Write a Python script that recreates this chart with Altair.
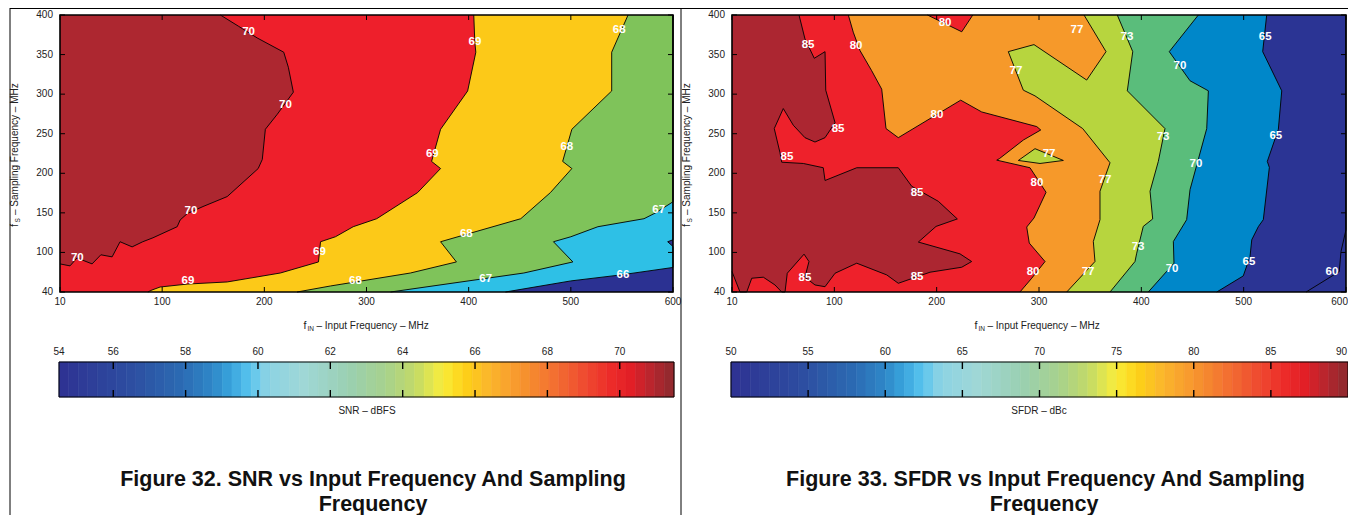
import altair as alt
import pandas as pd

FONT = "Liberation Sans"
W, H = 1340, 507

# ============ Figure 32: SNR (dBFS) contour boundaries ============
# x = input frequency (MHz), y = sampling frequency (MHz); region >= level lies left of boundary
snr_b66_x = [600, 600, 594.8, 600, 600, 549, 500, 436]
snr_b66_y = [400, 116, 113.5, 107.5, 81, 71.6, 64, 50]
snr_b67_x = [600, 600, 583, 571.6, 526.5, 500, 483, 502, 454, 323.5]
snr_b67_y = [400, 164, 150, 142.6, 132.5, 119.8, 113.5, 88, 74, 50]
snr_b68_x = [556, 540, 540, 501, 492, 501, 480, 451, 372.5, 388, 343, 264.7, 232]
snr_b68_y = [400, 353, 304, 255.6, 215, 206, 175.6, 142.6, 113.5, 88, 74, 57.6, 50]
snr_b69_x = [405, 406, 407, 399, 372.5, 363.7, 372.5, 350, 310, 287, 269.6, 255, 253, 215.7,
             163.7, 124.5, 98, 90, 86]
snr_b69_y = [400, 366, 353, 304, 255.6, 215, 206, 175.6, 142.6, 132.5, 119.8, 113.5, 88, 74,
             62.7, 60, 56.3, 52.5, 50]
snr_b70_x = [157, 174.5, 193, 219, 223.5, 228.4, 212.7, 201, 198, 194, 163.7, 140, 124.5, 117.6,
             114.7, 91, 81, 70.6, 58.8, 51, 40, 31.4, 16.7, 9.8, 0]
snr_b70_y = [400, 386, 371, 353, 334, 302.5, 274.6, 255.6, 217.5, 206, 170.6, 158, 149, 141,
             132.5, 118.5, 113.5, 107, 113.5, 94.4, 97, 85.5, 93, 83, 85.5]
snr_colors = ["#2b3192", "#2ec0e6", "#7fc35a", "#fcc918", "#ee1f2b", "#ad2730"]

snr_lab_x = [184.6, 220.6, 128.1, 17, 253.9, 125.2, 406.2, 547.4, 364.4, 496.1, 586, 397.7,
             289.2, 416.7, 551]
snr_lab_y = [378.3, 286, 151.9, 93.5, 100.4, 64, 365.6, 381.2, 223.9, 233.1, 154, 123.2,
             64, 66.5, 71.6]
snr_lab_t = ["70", "70", "70", "70", "69", "69", "69", "68", "69", "68", "67", "68",
             "68", "67", "66"]

# ============ Figure 33: SFDR (dBc) contour boundaries ============
sfdr_b60_x = [600, 600, 595.1, 593.4, 561]
sfdr_b60_y = [400, 128.7, 101.1, 75.8, 50]
sfdr_b65_x = [522.5, 518.6, 537.2, 533.9, 523.1, 525.1, 519.2, 514.3, 507.9, 506.2, 499.6, 473.7]
sfdr_b65_y = [400, 353.7, 304.2, 255.6, 215, 207.4, 141.4, 132.5, 116, 94.8, 70.3, 50]
sfdr_b70_x = [455.7, 427.3, 447.6, 465.5, 463.9, 447.6, 444.3, 431.3, 431.9, 406.8]
sfdr_b70_y = [400, 353.7, 316.9, 304.2, 256.5, 179.4, 141.4, 113.8, 86.4, 50]
sfdr_b73_x = [376.5, 391.6, 386.3, 423.1, 416.6, 408.5, 411.1, 401.9, 395.5, 393.8, 369.4]
sfdr_b73_y = [400, 353.7, 304.2, 256.5, 215, 177.3, 142.3, 132.9, 99.1, 88.5, 50]
sfdr_b77_x = [344, 365.5, 346.6, 295.1, 270, 284.7, 296.1, 342.7, 369.4, 359.6, 359.6, 353.1,
              354.7, 327.1]
sfdr_b77_y = [400, 353.7, 317.8, 362.6, 353.7, 305, 297.8, 256.5, 213.3, 177.3, 141.4, 113.8,
              88.5, 50]
sfdr_b80_x = [113.7, 118.5, 125.1, 136.5, 146.3, 150.5, 162.5, 223.5, 244, 297.8, 301.7, 284.7,
              261.2, 258.7, 291.2, 306.9, 295.1, 288, 290.5, 305.9, 292.9, 281.4]
sfdr_b80_y = [400, 378.3, 355, 329.6, 306.3, 256.5, 245, 292.4, 277.5, 259, 254.7, 242,
              218.4, 216.6, 207, 176, 143.5, 132.1, 111.8, 88.5, 67.4, 50]
sfdr_b85_x = [65.5, 71.3, 80.4, 90.9, 91.6, 100.7, 90.9, 81.1, 71.3, 59.9, 50.1, 41.3, 46.9,
              48.6, 69.7, 89.2, 90.9, 121.9, 162.5, 175.6, 201.6, 220.2, 199.4, 182.1, 222.8,
              234.2, 224.5, 193.5, 162.5, 151.2, 121.9, 100.7, 90.9, 81.1, 71.3, 75.2, 70.4,
              54, 51.8, 48.6, 42, 30.6, 19.3, 14.4, 7.8, 0]
sfdr_b85_y = [400, 369.8, 345.3, 353.7, 305, 264, 245, 239.5, 245, 260.7, 281.8, 256.5, 226,
              214, 212.4, 207, 190.9, 207, 207, 183.6, 164.6, 142.3, 132.9, 113.1, 98.2,
              88.5, 81.3, 75, 61, 71.6, 86.4, 73.7, 56.7, 58.9, 68.7, 88.5, 97.8,
              73.7, 50, 50, 58.9, 68.7, 67.4, 50, 50, 75.8]
# island of >=80 touching the top edge
sfdr_i80_x = [191, 224.5, 235.3]
sfdr_i80_y = [400, 378.8, 400]
# small closed island of 77..80 (outline), and its upper / lower edges by x
sfdr_i77_x = [296.1, 323.8, 301, 279.8, 296.1]
sfdr_i77_y = [231.1, 216.2, 212.4, 216.2, 231.1]
sfdr_i77_band_x = [279.8, 296.1, 301, 323.8]
sfdr_i77_band_top = [216.2, 231.1, 228.5, 216.2]
sfdr_i77_band_bot = [216.2, 213.3, 212.4, 216.2]
sfdr_colors = {"base": "#2b3494", "60": "#2b3494", "65": "#0087c9", "70": "#5abd7b",
               "73": "#b7d53e", "77": "#f6992a", "80": "#ee212b", "85": "#ac2631"}

sfdr_lab_x = [74.3, 121.2, 208.2, 337.1, 386, 521, 277.5, 437.8, 103.6, 200.3, 421.2, 531.4,
              53.7, 309.8, 453.4, 180.8, 298, 364.5, 396.8, 71.3, 180.8, 294.2, 347.9, 430,
              505.2, 586.3]
sfdr_lab_y = [362, 360.9, 390, 381, 372.3, 372.3, 329.2, 335.5, 255.6, 273.3, 245.4, 246.7,
              220, 223.9, 211.2, 175.6, 188.3, 190.9, 107.1, 67.8, 69, 75.4, 75.4, 79.2,
              88.1, 75.4]
sfdr_lab_t = ["85", "80", "80", "77", "73", "65", "77", "70", "85", "80", "73", "65",
              "85", "77", "70", "85", "80", "77", "73", "85", "85", "80", "77", "70",
              "65", "60"]

# ============ axes / colorbars ============
x_tick_vals = [0, 100, 200, 300, 400, 500, 600]
x_tick_text = ["10", "100", "200", "300", "400", "500", "600"]
y_tick_vals = [50, 100, 150, 200, 250, 300, 350, 400]
y_tick_text = ["40", "100", "150", "200", "250", "300", "350", "400"]

snr_cbar_lim = [54.5, 71.5]
snr_cbar_ticks = [56, 58, 60, 62, 64, 66, 68, 70]
snr_cbar_lab_vals = [54.5, 56, 58, 60, 62, 64, 66, 68, 70]
snr_cbar_lab_text = ["54", "56", "58", "60", "62", "64", "66", "68", "70"]
sfdr_cbar_lim = [50, 90]
sfdr_cbar_ticks = [55, 60, 65, 70, 75, 80, 85]
sfdr_cbar_lab_vals = [50, 55, 60, 65, 70, 75, 80, 85, 90]
sfdr_cbar_lab_text = ["50", "55", "60", "65", "70", "75", "80", "85", "90"]

cmap_pos = [0.0, 0.12, 0.2, 0.25, 0.28, 0.31, 0.34, 0.4, 0.47, 0.53, 0.58, 0.615, 0.635,
            0.66, 0.7, 0.75, 0.8, 0.85, 0.9, 0.93, 0.965, 1.0]
cmap_col = ["#2e3192", "#2d4fa1", "#2b6bb3", "#2f87c8", "#38a4dd", "#58c3ee", "#8dd3e4",
            "#9fd7d6", "#9ad0b2", "#a6d18e", "#c3da67", "#eeeb45", "#fce52f", "#fdd117",
            "#fbb62c", "#f7962e", "#f37431", "#ef4e30", "#ec2a29", "#e21f26", "#b6262e",
            "#8c2a2e"]
N_BANDS = 64

Y_RNG = [284, 7]
X_MIN, X_MAX, Y_MIN, Y_MAX = 0, 600, 50, 400


def txt(s, x, y, size=10, angle=0, align="center", weight="normal", color="#222"):
    return alt.Chart(pd.DataFrame({"t": [s]})).mark_text(
        font=FONT, fontSize=size, angle=angle, align=align, baseline="middle",
        fontWeight=weight, color=color).encode(x=alt.value(x), y=alt.value(y), text="t:N")


def level_fill(bx, by, color):
    """Region left of a boundary: close it through the lower-left corner, fill up to the top edge."""
    xs_, ys_ = list(bx), list(by)
    if xs_[-1] != X_MIN:
        xs_.append(X_MIN)
        ys_.append(Y_MIN)
    return (xs_, ys_, [Y_MAX] * len(xs_), color)


def contour_panel(x_rng, fills, lines, lab_x, lab_y, lab_t, ylab_x, last_right=False):
    xs = alt.Scale(domain=[X_MIN, X_MAX], range=x_rng, zero=False, nice=False)
    ys = alt.Scale(domain=[Y_MIN, Y_MAX], range=Y_RNG, zero=False, nice=False)

    def X(f):
        return alt.X(f, type="quantitative", scale=xs, axis=None)

    def Y(f):
        return alt.Y(f, type="quantitative", scale=ys, axis=None)

    out = []
    for fx, fy, fy0, col in fills:
        df = pd.DataFrame({"x": fx, "y": fy, "y0": fy0})
        # order=False keeps the data order of the boundary points (no sorting by x)
        out.append(alt.Chart(df).mark_area(color=col, opacity=1, order=False).encode(
            x=X("x"), y=Y("y"), y2="y0:Q"))
    for lx, ly in lines:
        df = pd.DataFrame({"seq": list(range(len(lx))), "x": lx, "y": ly})
        out.append(alt.Chart(df).mark_line(color="black", strokeWidth=0.9).encode(
            x=X("x"), y=Y("y"), order=alt.Order("seq:Q")))
    lab = pd.DataFrame({"x": lab_x, "y": lab_y, "t": lab_t})
    out.append(alt.Chart(lab).mark_text(font=FONT, fontSize=11.5, fontWeight="bold",
                                        color="white", baseline="middle").encode(
        x=X("x"), y=Y("y"), text="t:N"))
    frame = pd.DataFrame({"x": [X_MIN], "x2": [X_MAX], "y": [Y_MIN], "y2": [Y_MAX]})
    out.append(alt.Chart(frame).mark_rect(fill="transparent", stroke="black",
                                          strokeWidth=1.6).encode(
        x=X("x"), x2="x2:Q", y=Y("y"), y2="y2:Q"))
    xt = pd.DataFrame({"v": x_tick_vals, "t": x_tick_text})
    yt = pd.DataFrame({"v": y_tick_vals, "t": y_tick_text})
    out.append(alt.Chart(xt).mark_rule(color="black", strokeWidth=1).encode(
        x=X("v"), y=alt.value(Y_RNG[0]), y2=alt.value(Y_RNG[0] - 5)))
    out.append(alt.Chart(xt).mark_rule(color="black", strokeWidth=1).encode(
        x=X("v"), y=alt.value(Y_RNG[1]), y2=alt.value(Y_RNG[1] + 5)))
    out.append(alt.Chart(yt).mark_rule(color="black", strokeWidth=1).encode(
        y=Y("v"), x=alt.value(x_rng[0]), x2=alt.value(x_rng[0] + 5)))
    out.append(alt.Chart(yt).mark_rule(color="black", strokeWidth=1).encode(
        y=Y("v"), x=alt.value(x_rng[1]), x2=alt.value(x_rng[1] - 5)))
    if last_right:
        xt_c, xt_r = xt.iloc[:-1], xt.iloc[-1:]
        out.append(alt.Chart(xt_c).mark_text(font=FONT, fontSize=10, color="#222",
                                             baseline="middle").encode(
            x=X("v"), y=alt.value(294), text="t:N"))
        out.append(alt.Chart(xt_r).mark_text(font=FONT, fontSize=10, color="#222",
                                             baseline="middle", align="right", dx=2).encode(
            x=X("v"), y=alt.value(294), text="t:N"))
    else:
        out.append(alt.Chart(xt).mark_text(font=FONT, fontSize=10, color="#222",
                                           baseline="middle").encode(
            x=X("v"), y=alt.value(294), text="t:N"))
    out.append(alt.Chart(yt).mark_text(font=FONT, fontSize=10, color="#222", align="right",
                                       baseline="middle").encode(
        x=alt.value(ylab_x), y=Y("v"), text="t:N"))
    return out


def colorbar(x_rng, lim, ticks, lab_vals, lab_text, last_right=False):
    cs = alt.Scale(domain=lim, range=x_rng, zero=False, nice=False)
    step = (lim[1] - lim[0]) / N_BANDS
    bands = pd.DataFrame({
        "lo": [lim[0] + i * step for i in range(N_BANDS)],
        "hi": [lim[0] + (i + 1) * step for i in range(N_BANDS)],
        "t": [(i + 0.5) / N_BANDS for i in range(N_BANDS)],
    })
    cscale = alt.Scale(domain=cmap_pos, range=cmap_col, interpolate="rgb")
    out = [alt.Chart(bands).mark_rect(strokeWidth=0.6).encode(
        x=alt.X("lo:Q", scale=cs, axis=None), x2="hi:Q",
        y=alt.value(354), y2=alt.value(389),
        color=alt.Color("t:Q", scale=cscale, legend=None),
        stroke=alt.Stroke("t:Q", scale=cscale, legend=None))]
    box = pd.DataFrame({"lo": [lim[0]], "hi": [lim[1]]})
    out.append(alt.Chart(box).mark_rect(fill="transparent", stroke="black", strokeWidth=1).encode(
        x=alt.X("lo:Q", scale=cs, axis=None), x2="hi:Q", y=alt.value(354), y2=alt.value(389)))
    tk = pd.DataFrame({"v": ticks})
    out.append(alt.Chart(tk).mark_rule(color="black", strokeWidth=1.4).encode(
        x=alt.X("v:Q", scale=cs, axis=None), y=alt.value(354), y2=alt.value(361)))
    out.append(alt.Chart(tk).mark_rule(color="black", strokeWidth=1.4).encode(
        x=alt.X("v:Q", scale=cs, axis=None), y=alt.value(382), y2=alt.value(389)))
    lb = pd.DataFrame({"v": lab_vals, "t": lab_text})
    if last_right:
        out.append(alt.Chart(lb.iloc[:-1]).mark_text(font=FONT, fontSize=10, color="#222",
                                                     baseline="middle").encode(
            x=alt.X("v:Q", scale=cs, axis=None), y=alt.value(344), text="t:N"))
        out.append(alt.Chart(lb.iloc[-1:]).mark_text(font=FONT, fontSize=10, color="#222",
                                                     baseline="middle", align="right",
                                                     dx=-1).encode(
            x=alt.X("v:Q", scale=cs, axis=None), y=alt.value(344), text="t:N"))
    else:
        out.append(alt.Chart(lb).mark_text(font=FONT, fontSize=10, color="#222",
                                           baseline="middle").encode(
            x=alt.X("v:Q", scale=cs, axis=None), y=alt.value(344), text="t:N"))
    return out


snr_fills = [
    level_fill([X_MAX, X_MAX], [Y_MAX, Y_MIN], snr_colors[0]),
    level_fill(snr_b66_x, snr_b66_y, snr_colors[1]),
    level_fill(snr_b67_x, snr_b67_y, snr_colors[2]),
    level_fill(snr_b68_x, snr_b68_y, snr_colors[3]),
    level_fill(snr_b69_x, snr_b69_y, snr_colors[4]),
    level_fill(snr_b70_x, snr_b70_y, snr_colors[5]),
]
snr_lines = [(snr_b66_x, snr_b66_y), (snr_b67_x, snr_b67_y), (snr_b68_x, snr_b68_y),
             (snr_b69_x, snr_b69_y), (snr_b70_x, snr_b70_y)]

sfdr_fills = [
    level_fill([X_MAX, X_MAX], [Y_MAX, Y_MIN], sfdr_colors["base"]),
    level_fill(sfdr_b60_x, sfdr_b60_y, sfdr_colors["60"]),
    level_fill(sfdr_b65_x, sfdr_b65_y, sfdr_colors["65"]),
    level_fill(sfdr_b70_x, sfdr_b70_y, sfdr_colors["70"]),
    level_fill(sfdr_b73_x, sfdr_b73_y, sfdr_colors["73"]),
    level_fill(sfdr_b77_x, sfdr_b77_y, sfdr_colors["77"]),
    (sfdr_i77_band_x, sfdr_i77_band_top, sfdr_i77_band_bot, sfdr_colors["73"]),
    level_fill(sfdr_b80_x, sfdr_b80_y, sfdr_colors["80"]),
    (sfdr_i80_x, sfdr_i80_y, [Y_MAX] * len(sfdr_i80_x), sfdr_colors["80"]),
    level_fill(sfdr_b85_x, sfdr_b85_y, sfdr_colors["85"]),
]
sfdr_lines = [(sfdr_b60_x, sfdr_b60_y), (sfdr_b65_x, sfdr_b65_y), (sfdr_b70_x, sfdr_b70_y),
              (sfdr_b73_x, sfdr_b73_y), (sfdr_b77_x, sfdr_b77_y), (sfdr_b80_x, sfdr_b80_y),
              (sfdr_b85_x, sfdr_b85_y), (sfdr_i80_x, sfdr_i80_y), (sfdr_i77_x, sfdr_i77_y)]

layers = []
layers += contour_panel([52, 665], snr_fills, snr_lines, snr_lab_x, snr_lab_y, snr_lab_t, 45)
layers += contour_panel([724, 1338], sfdr_fills, sfdr_lines, sfdr_lab_x, sfdr_lab_y,
                        sfdr_lab_t, 717, last_right=True)
layers += colorbar([51, 666], snr_cbar_lim, snr_cbar_ticks, snr_cbar_lab_vals, snr_cbar_lab_text)
layers += colorbar([723, 1340], sfdr_cbar_lim, sfdr_cbar_ticks, sfdr_cbar_lab_vals,
                   sfdr_cbar_lab_text, last_right=True)

# axis titles (f with subscript)
for ox in [0, 671]:
    layers.append(txt("f", 295.5 + ox, 318, size=10.5, align="left"))
    layers.append(txt("IN", 299.5 + ox, 321, size=6.5, align="left"))
    layers.append(txt("– Input Frequency – MHz", 308.5 + ox, 318, align="left"))
for yx in [7, 679]:
    layers.append(txt("f", yx, 219, size=10.5, angle=270, align="left"))
    layers.append(txt("S", yx + 3, 214.5, size=6.5, angle=270, align="left"))
    layers.append(txt("– Sampling Frequency – MHz", yx, 207, angle=270, align="left"))

layers.append(txt("SNR – dBFS", 359, 403))
layers.append(txt("SFDR – dBc", 1031, 403))

layers.append(txt("Figure 32. SNR vs Input Frequency And Sampling", 365, 472, size=21.5,
                  weight="bold", color="#111"))
layers.append(txt("Frequency", 365, 497, size=21.5, weight="bold", color="#111"))
layers.append(txt("Figure 33. SFDR vs Input Frequency And Sampling", 1037.5, 472, size=21.5,
                  weight="bold", color="#111"))
layers.append(txt("Frequency", 1036, 497, size=21.5, weight="bold", color="#111"))

# page frame lines
dummy = pd.DataFrame({"a": [0]})
layers.append(alt.Chart(dummy).mark_rule(color="black", strokeWidth=1).encode(
    x=alt.value(2), y=alt.value(0), y2=alt.value(H)))
layers.append(alt.Chart(dummy).mark_rule(color="black", strokeWidth=1).encode(
    x=alt.value(673), y=alt.value(0), y2=alt.value(H)))
layers.append(alt.Chart(dummy).mark_rule(color="black", strokeWidth=1).encode(
    x=alt.value(2), x2=alt.value(W), y=alt.value(0.5)))

chart = alt.layer(*layers).resolve_scale(
    x="independent", y="independent", color="independent", stroke="independent"
).properties(
    width=W, height=H, padding=0, autosize=alt.AutoSizeParams(type="none")
).configure_view(strokeWidth=0)

chart.save("out.html", embed_options={"renderer": "svg", "actions": False})
